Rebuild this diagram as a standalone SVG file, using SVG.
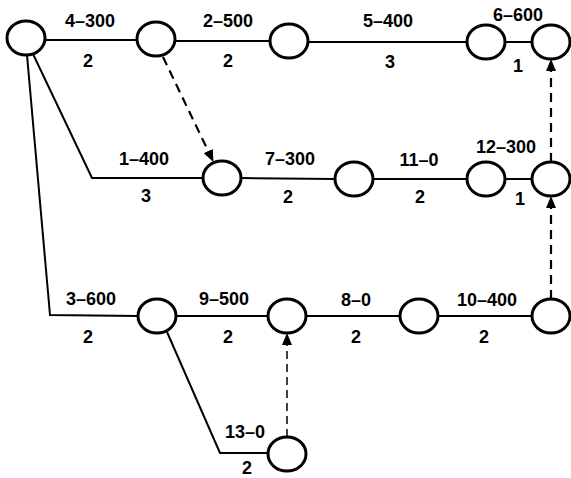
<svg xmlns="http://www.w3.org/2000/svg" width="571" height="478" viewBox="0 0 571 478">
<style>
.node ellipse{fill:#fff;stroke:#000;stroke-width:3}
.edge{fill:none;stroke:#000;stroke-width:2}
.dash{fill:none;stroke:#000;stroke-width:2.2;stroke-dasharray:9 6}
.dash2{fill:none;stroke:#000;stroke-width:1.5;stroke-dasharray:8 5}
text{font-family:"Liberation Sans",Arial,sans-serif;font-weight:bold;font-size:18px;text-anchor:middle;fill:#000}
</style>
<defs>
<marker id="ah" markerUnits="userSpaceOnUse" markerWidth="12" markerHeight="10" refX="11" refY="5" orient="auto">
<path d="M0,0 L12,5 L0,10 Z" fill="#000"/>
</marker>
</defs>
<rect width="571" height="478" fill="#fff"/>
<g id="connectors">
<line class="edge" x1="45" y1="40" x2="137" y2="40"/>
<line class="edge" x1="175" y1="41" x2="270" y2="41"/>
<line class="edge" x1="308" y1="42" x2="467" y2="42"/>
<line class="edge" x1="505" y1="42" x2="532" y2="42"/>
<polyline class="edge" points="33,54 92,178 203,178"/>
<polyline class="edge" points="27,55 50,315 138,316"/>
<line class="edge" x1="241" y1="178" x2="335" y2="179"/>
<line class="edge" x1="373" y1="179" x2="467" y2="179"/>
<line class="edge" x1="505" y1="179" x2="532" y2="179"/>
<line class="edge" x1="176" y1="316" x2="268" y2="316"/>
<line class="edge" x1="306" y1="316" x2="400" y2="316"/>
<line class="edge" x1="438" y1="316" x2="532" y2="316"/>
<polyline class="edge" points="167,332 220,453 268,453"/>
<line class="dash" x1="163" y1="57" x2="213" y2="161" marker-end="url(#ah)"/>
<line class="dash" x1="551" y1="162" x2="551" y2="60" marker-end="url(#ah)"/>
<line class="dash" x1="551" y1="299" x2="551" y2="197" marker-end="url(#ah)"/>
<line class="dash2" x1="287" y1="437" x2="287" y2="334" marker-end="url(#ah)"/>
</g>
<g id="n1" class="node"><ellipse cx="26" cy="38" rx="19" ry="17"/></g>
<g id="n2" class="node"><ellipse cx="156" cy="39" rx="19" ry="17"/></g>
<g id="n3" class="node"><ellipse cx="289" cy="41" rx="19" ry="17"/></g>
<g id="n4" class="node"><ellipse cx="486" cy="42" rx="19" ry="17"/></g>
<g id="n5" class="node"><ellipse cx="551" cy="42" rx="19" ry="17"/></g>
<g id="n6" class="node"><ellipse cx="222" cy="178" rx="19" ry="17"/></g>
<g id="n7" class="node"><ellipse cx="354" cy="179" rx="19" ry="17"/></g>
<g id="n8" class="node"><ellipse cx="486" cy="179" rx="19" ry="17"/></g>
<g id="n9" class="node"><ellipse cx="551" cy="179" rx="19" ry="17"/></g>
<g id="n10" class="node"><ellipse cx="157" cy="316" rx="19" ry="17"/></g>
<g id="n11" class="node"><ellipse cx="287" cy="316" rx="19" ry="17"/></g>
<g id="n12" class="node"><ellipse cx="419" cy="316" rx="19" ry="17"/></g>
<g id="n13" class="node"><ellipse cx="551" cy="316" rx="19" ry="17"/></g>
<g id="n14" class="node"><ellipse cx="287" cy="454" rx="19" ry="17"/></g>
<g id="labels">
<text x="90" y="27">4–300</text>
<text x="88" y="67">2</text>
<text x="228" y="27">2–500</text>
<text x="228" y="67">2</text>
<text x="388" y="27">5–400</text>
<text x="390" y="68">3</text>
<text x="518" y="21">6–600</text>
<text x="518" y="72">1</text>
<text x="144" y="165">1–400</text>
<text x="146" y="202">3</text>
<text x="290" y="165">7–300</text>
<text x="288" y="203">2</text>
<text x="419" y="166">11–0</text>
<text x="420" y="203">2</text>
<text x="506" y="153">12–300</text>
<text x="520" y="205">1</text>
<text x="91" y="305">3–600</text>
<text x="88" y="343">2</text>
<text x="224" y="305">9–500</text>
<text x="228" y="343">2</text>
<text x="356" y="306">8–0</text>
<text x="356" y="343">2</text>
<text x="487" y="306">10–400</text>
<text x="484" y="343">2</text>
<text x="245" y="438">13–0</text>
<text x="247" y="474">2</text>
</g>
</svg>
